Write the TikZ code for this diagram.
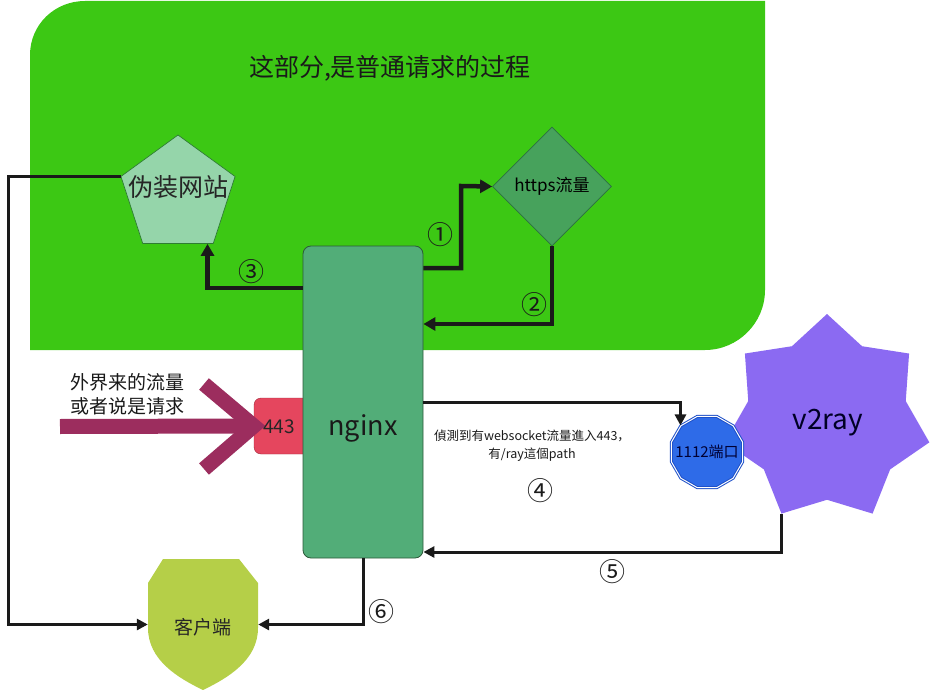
\documentclass[tikz,border=0pt]{standalone}
\usepackage{fontspec}
\setmainfont{Noto Sans CJK SC}
\usetikzlibrary{arrows.meta,shapes.geometric,calc}
\definecolor{bggreen}{HTML}{3CC814}
\definecolor{nginxfill}{HTML}{52AD78}
\definecolor{nginxdraw}{HTML}{2D5A3A}
\definecolor{pentfill}{HTML}{95D5AA}
\definecolor{pentdraw}{HTML}{2E7D32}
\definecolor{diafill}{HTML}{47A25C}
\definecolor{diadraw}{HTML}{2D7040}
\definecolor{portfill}{HTML}{E5465E}
\definecolor{portdraw}{HTML}{A0283A}
\definecolor{maroon}{HTML}{9C2D5E}
\definecolor{bluefill}{HTML}{2E6BE8}
\definecolor{bluedraw}{HTML}{1E50C8}
\definecolor{purplefill}{HTML}{8B6AF2}
\definecolor{shieldfill}{HTML}{B5CF48}
\definecolor{linecol}{HTML}{1A1A1A}
\begin{document}
\begin{tikzpicture}[x=1pt,y=-1pt,
  heavy/.style={draw=linecol, line width=4.5pt, -{Triangle[length=12pt,width=13pt]}},
  light/.style={draw=linecol, line width=3pt, -{Triangle[length=11pt,width=11pt]}},
  num/.style={font=\fontsize{26}{26}\selectfont, text=linecol, inner sep=0pt},
  bigarrow/.style={draw=maroon, line width=15pt, line cap=butt, line join=miter},
  txt/.style={inner sep=0pt, text=linecol, align=center}
]
\useasboundingbox (0,0) rectangle (932,690);
% green region
\fill[bggreen] (30,350) -- (30,55) .. controls (30,24.6) and (54.6,1) .. (85,1)
  -- (765,1) -- (765,290) .. controls (765,323) and (738,350) .. (705,350) -- cycle;
\node[txt, font=\fontsize{25}{28}\selectfont] (title) at (390,68) {这部分,是普通请求的过程};

% coordinates for routing
\coordinate (c1) at (0,268);
\coordinate (t1) at (461,186);
\coordinate (c2) at (0,324);
\coordinate (c3) at (0,288);
\coordinate (lx) at (8,400);
\coordinate (y5) at (0,552);
\coordinate (a0) at (60,426.5);
\coordinate (chA) at (204,384);
\coordinate (chB) at (204,469);

% big incoming arrow
\node[draw=portdraw, fill=portfill, rounded corners=7pt, minimum width=62pt, minimum height=56pt, inner sep=0pt] (p443) at (285,426) {};
\draw[bigarrow] (a0) -- (p443.west);
\draw[bigarrow] (chA) -- (p443.west) -- (chB);
\node[txt, font=\fontsize{19}{19}\selectfont, text=black!85] (p443t) at (279,427) {443};

\node[txt, font=\fontsize{19}{24}\selectfont, align=left, anchor=west] (outside) at (70,394) {外界来的流量\\或者说是请求};

% nginx
\node[draw=nginxdraw, fill=nginxfill, rounded corners=8pt, minimum width=120pt, minimum height=312pt, inner sep=0pt, line width=0.8pt] (nginx) at (363,402) {};
\node[txt, font=\fontsize{27}{27}\selectfont, text=black!90] (nginxt) at (363,428) {nginx};

% pentagon
\node[regular polygon, regular polygon sides=5, minimum size=120pt, inner sep=0pt, fill=pentfill, draw=pentdraw, line width=0.7pt] (web) at (178,195) {};
\node[txt, font=\fontsize{25}{25}\selectfont, text=black!85] (webt) at (178,187) {伪装网站};

% diamond
\node[diamond, minimum width=119pt, minimum height=119pt, inner sep=0pt, fill=diafill, draw=diadraw, line width=0.7pt] (https) at (552,186.5) {\makebox[0pt]{\fontsize{17}{17}\selectfont https流量}};

% star v2ray
\node[star, star points=7, star point ratio=1.3, minimum size=210pt, inner sep=0pt, fill=purplefill] (v2ray) at (827,419) {};
\node[txt, font=\fontsize{28}{28}\selectfont, text=black!85!blue] (v2rayt) at (828,423) {v2ray};

% port 1112
\node[regular polygon, regular polygon sides=12, minimum size=74pt, inner sep=0pt, fill=bluefill, draw=bluedraw, double=white, double distance=1pt, line width=1pt] (port) at (707,452) {\makebox[0pt]{\fontsize{15}{15}\selectfont\color{black!80!blue}1112端口}};

% shield client
\fill[shieldfill] (148,583) -- (163,559) -- (239,559) -- (258,583) -- (258,628)
  .. controls (258,660) and (228,678) .. (203,690)
  .. controls (178,678) and (148,660) .. (148,628) -- cycle;
\node[minimum width=110pt, minimum height=131pt, inner sep=0pt] (client) at (203,624.5) {};
\node[txt, font=\fontsize{19}{19}\selectfont, text=black!85] (clientt) at (203,627) {客户端};

% connectors
\draw[heavy] (nginx.east |- c1) -| (t1) -- (https.west);
\draw[heavy] (https.south) |- (nginx.east |- c2);
\draw[heavy] (nginx.west |- c3) -| ($(web.corner 4)+(-6,0)$);
\draw[light] (web.corner 2) -| (lx) |- (client.west);
\draw[light] (nginx.east) -| (port.north west);
\draw[light] (v2ray.outer point 4) |- (nginx.east |- y5);
\draw[light] (nginx.south) |- (client.east);

% step numbers
\node[num] (n1) at (440,235) {①};
\node[num] (n2) at (534,305) {②};
\node[num] (n3) at (251,272) {③};
\node[num] (n4) at (540,491) {④};
\node[num] (n5) at (612,572) {⑤};
\node[num] (n6) at (381,612) {⑥};

\node[txt, font=\fontsize{12.5}{18}\selectfont] (ws) at (532,446) {偵測到有websocket流量進入443，\\有/ray這個path};
\end{tikzpicture}
\end{document}
